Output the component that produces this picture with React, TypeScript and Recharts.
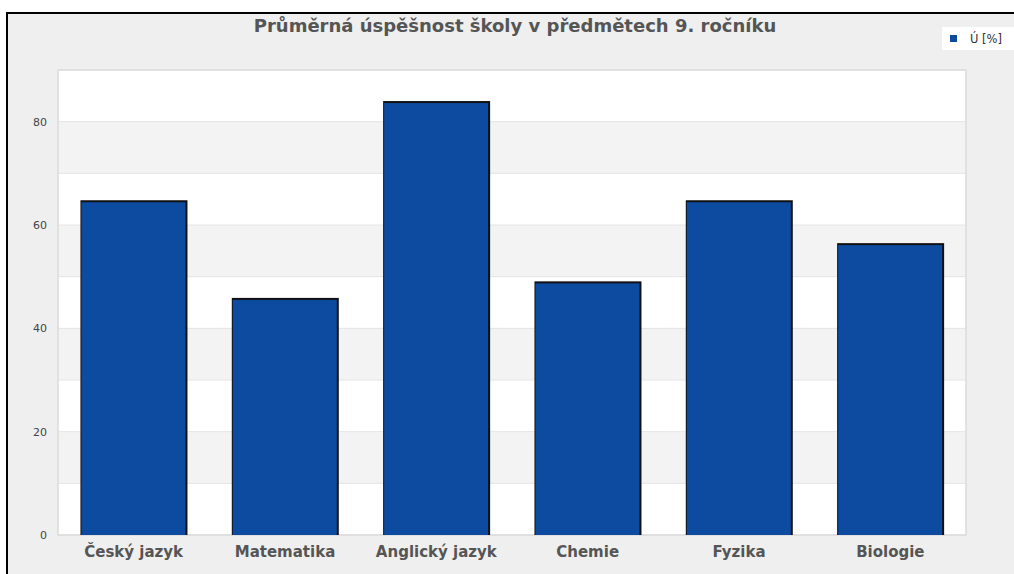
import React from "react";
import { BarChart, Bar, XAxis, YAxis, ReferenceArea, CartesianGrid } from "recharts";

const categories = ["Český jazyk", "Matematika", "Anglický jazyk", "Chemie", "Fyzika", "Biologie"];
const values = [64.5, 45.6, 83.7, 48.8, 64.5, 56.2];
const yTicks = [0, 20, 40, 60, 80];
const gridValues = [0, 10, 20, 30, 40, 50, 60, 70, 80, 90];
const seriesName = "Ú [%]";
const title = "Průměrná úspěšnost školy v předmětech 9. ročníku";

const data = categories.map((c, i) => ({ name: c, value: values[i] }));

const FONT = "'DejaVu Sans', Verdana, sans-serif";

const BarShape = (props: any) => {
  const { x, y, width, height } = props;
  if (height <= 0) return null;
  return (
    <g>
      <rect x={x - 1} y={y - 1.5} width={width + 3} height={height + 1.5} fill="#111" />
      <rect x={x} y={y + 0.5} width={width} height={height - 0.5} fill="#0c4ba0" />
    </g>
  );
};

export default function App() {
  return (
    <div style={{ position: "absolute", left: 0, top: 0, width: 1014, height: 574, overflow: "hidden", background: "#fff" }}>
      <div
        style={{
          position: "absolute",
          left: 6,
          top: 12,
          width: 1020,
          height: 580,
          background: "#efefef",
          borderTop: "2px solid #000",
          borderLeft: "2px solid #000",
        }}
      />
      <div
        style={{
          position: "absolute",
          left: 0,
          width: 1030,
          top: 15,
          textAlign: "center",
          fontFamily: FONT,
          fontWeight: "bold",
          fontSize: 18,
          color: "#555",
        }}
      >
        {title}
      </div>
      <div
        style={{
          position: "absolute",
          left: 942,
          top: 27,
          width: 80,
          height: 23,
          background: "#fff",
          fontFamily: FONT,
          fontSize: 11.5,
          color: "#333",
          display: "flex",
          alignItems: "center",
        }}
      >
        <span style={{ display: "inline-block", width: 7, height: 7, background: "#0c4ba0", marginLeft: 8, marginRight: 13 }} />
        <span>{seriesName}</span>
      </div>
      <div style={{ position: "absolute", left: 0, top: 0 }}>
        <BarChart
          width={1014}
          height={574}
          data={data}
          margin={{ top: 70, right: 48, bottom: 9, left: 0 }}
          barCategoryGap="15.5%"
        >
          <CartesianGrid
            vertical={false}
            horizontalValues={gridValues}
            stroke="#e4e4e4"
            strokeWidth={1}
            horizontalFill={["#ffffff", "#f3f3f3"]}
            fillOpacity={1}
          />
          <ReferenceArea y1={0} y2={90} fill="none" stroke="#dcdcdc" strokeWidth={1.5} ifOverflow="visible" />
          <XAxis
            dataKey="name"
            axisLine={false}
            tickLine={false}
            tickMargin={5}
            interval={0}
            tick={{ fontSize: 15, fontWeight: "bold", fill: "#555", fontFamily: FONT }}
          />
          <YAxis
            domain={[0, 90]}
            ticks={yTicks}
            width={58}
            axisLine={false}
            tickLine={false}
            tickMargin={5}
            tick={{ fontSize: 11, fill: "#444", fontFamily: FONT }}
          />
          <Bar dataKey="value" name={seriesName} shape={BarShape} isAnimationActive={false} />
        </BarChart>
      </div>
    </div>
  );
}
